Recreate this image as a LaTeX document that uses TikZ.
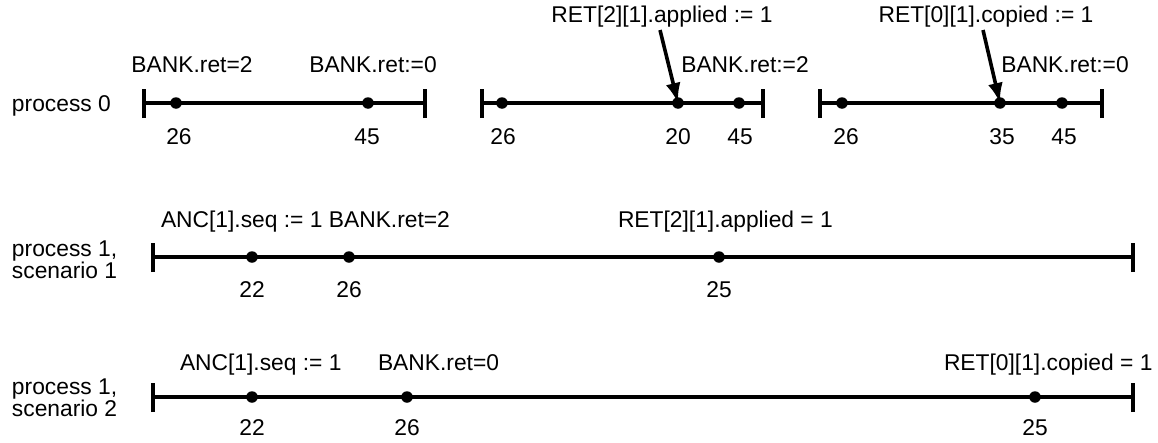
\documentclass[tikz,border=0pt]{standalone}
\usepackage{fontspec}
\setmainfont{Liberation Sans}
\usetikzlibrary{arrows.meta}
\newcommand{\twoline}[2]{\begingroup\renewcommand{\arraystretch}{0.77}\begin{tabular}[t]{@{}l@{}}#1\\#2\end{tabular}\endgroup}
\begin{document}
\begin{tikzpicture}[x=1pt,y=-1pt,
  every node/.style={inner sep=0pt,outer sep=0pt,font=\fontsize{22.8}{26}\selectfont},
  tl/.style={line width=3.6pt},
  tick/.style={line width=3.6pt},
  evt/.style={circle,fill=black,minimum size=11.5pt,inner sep=0pt},
  lab/.style={anchor=base},
  labw/.style={anchor=base west},
  num/.style={anchor=base},
  pointer/.style={line width=3.6pt,-{Latex[length=20pt,width=15pt]}}]
\useasboundingbox (0,0) rectangle (1158,442);

% ---------- process 0 ----------
\node[labw] (p0) at (12,111) {process 0};
% segment 1
\coordinate (s1l) at (144,103); \coordinate (s1r) at (425,103);
\draw[tl] (s1l) -- (s1r);
\draw[tick] ([yshift=-15pt]s1l) -- ([yshift=14pt]s1l);
\draw[tick] ([yshift=-15pt]s1r) -- ([yshift=14pt]s1r);
\node[evt] (d11) at (176,103) {};
\node[evt] (d12) at (368,103) {};
\node[lab] (l11) at (192,72) {BANK.ret=2};
\node[lab] (l12) at (373,72) {BANK.ret:=0};
\node[num] (n11) at (179,144) {26};
\node[num] (n12) at (367,144) {45};
% segment 2
\coordinate (s2l) at (482,103); \coordinate (s2r) at (763,103);
\draw[tl] (s2l) -- (s2r);
\draw[tick] ([yshift=-15pt]s2l) -- ([yshift=14pt]s2l);
\draw[tick] ([yshift=-15pt]s2r) -- ([yshift=14pt]s2r);
\node[evt] (d21) at (502,103) {};
\node[evt] (d22) at (678,103) {};
\node[evt] (d23) at (739,103) {};
\node[lab] (l21) at (662,22) {RET[2][1].applied := 1};
\node[lab] (l22) at (745,72) {BANK.ret:=2};
\node[num] (n21) at (503,144) {26};
\node[num] (n22) at (678,144) {20};
\node[num] (n23) at (740,144) {45};
\coordinate (a2) at (660,30);
\draw[pointer] (a2) -- (d22.center);
% segment 3
\coordinate (s3l) at (820,103); \coordinate (s3r) at (1102,103);
\draw[tl] (s3l) -- (s3r);
\draw[tick] ([yshift=-15pt]s3l) -- ([yshift=14pt]s3l);
\draw[tick] ([yshift=-15pt]s3r) -- ([yshift=14pt]s3r);
\node[evt] (d31) at (842,103) {};
\node[evt] (d32) at (1000,103) {};
\node[evt] (d33) at (1062,103) {};
\node[lab] (l31) at (986,22) {RET[0][1].copied := 1};
\node[lab] (l32) at (1065,72) {BANK.ret:=0};
\node[num] (n31) at (846,144) {26};
\node[num] (n32) at (1002,144) {35};
\node[num] (n33) at (1064,144) {45};
\coordinate (a3) at (983,30);
\draw[pointer] (a3) -- (d32.center);

% ---------- process 1, scenario 1 ----------
\node[labw] (p1) at (12,256) {\twoline{process 1,}{scenario 1}};
\coordinate (r2l) at (153,257); \coordinate (r2r) at (1133,257);
\draw[tl] (r2l) -- (r2r);
\draw[tick] ([yshift=-15pt]r2l) -- ([yshift=14pt]r2l);
\draw[tick] ([yshift=-15pt]r2r) -- ([yshift=14pt]r2r);
\node[evt] (e21) at (252,257) {};
\node[evt] (e22) at (349,257) {};
\node[evt] (e23) at (719,257) {};
\node[labw] (m21) at (161,227) {ANC[1].seq := 1 BANK.ret=2};
\node[labw] (m22) at (618,227) {RET[2][1].applied = 1};
\node[num] (k21) at (252,297) {22};
\node[num] (k22) at (349,297) {26};
\node[num] (k23) at (719,297) {25};

% ---------- process 1, scenario 2 ----------
\node[labw] (p2) at (12,394) {\twoline{process 1,}{scenario 2}};
\coordinate (r3l) at (153,397); \coordinate (r3r) at (1133,397);
\draw[tl] (r3l) -- (r3r);
\draw[tick] ([yshift=-15pt]r3l) -- ([yshift=14pt]r3l);
\draw[tick] ([yshift=-15pt]r3r) -- ([yshift=14pt]r3r);
\node[evt] (e31) at (252,397) {};
\node[evt] (e32) at (407,397) {};
\node[evt] (e33) at (1035,397) {};
\node[labw] (m31) at (180,370) {ANC[1].seq := 1};
\node[labw] (m32) at (378,370) {BANK.ret=0};
\node[labw] (m33) at (944,370) {RET[0][1].copied = 1};
\node[num] (k31) at (252,435) {22};
\node[num] (k32) at (407,435) {26};
\node[num] (k33) at (1035,435) {25};
\end{tikzpicture}
\end{document}
